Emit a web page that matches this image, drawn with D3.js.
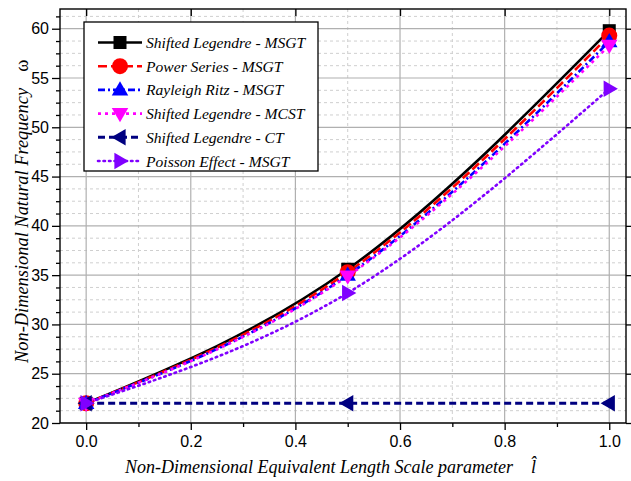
<!DOCTYPE html>
<html>
<head>
<meta charset="utf-8">
<script src="https://cdn.jsdelivr.net/npm/d3@7"></script>
<style>
  html, body { margin: 0; padding: 0; background: #fff; }
  svg { display: block; }
  .serif { font-family: "Liberation Serif", "Times New Roman", Tinos, serif; }
  .sans { font-family: "Liberation Sans", Arial, Arimo, sans-serif; }
</style>
</head>
<body>
<svg id="chart" width="631" height="481"></svg>
<script>
// Length-scale parameter values and frequency results per method
const xValues = [0.0, 0.5, 1.0];
const slMSGT   = [22.0, 35.6, 59.8];
const psMSGT   = [22.0, 35.3, 59.3];
const rrMSGT   = [22.0, 35.0, 58.7];
const slMCST   = [22.0, 34.9, 58.3];
const slCT     = [22.0, 22.0, 22.0];
const poisMSGT = [22.0, 33.2, 53.9];

const seriesNames = [
  "Shifted Legendre - MSGT",
  "Power Series - MSGT",
  "Rayleigh Ritz - MSGT",
  "Shifted Legendre - MCST",
  "Shifted Legendre - CT",
  "Poisson Effect - MSGT"
];
const xTicks = [0.0, 0.2, 0.4, 0.6, 0.8, 1.0];
const yTicks = [20, 25, 30, 35, 40, 45, 50, 55, 60];

const series = [
  { name: seriesNames[0], values: slMSGT,   color: "#000000", dash: null,         width: 2.6, marker: "square" },
  { name: seriesNames[1], values: psMSGT,   color: "#ff0000", dash: "9,4",        width: 2.6, marker: "circle" },
  { name: seriesNames[2], values: rrMSGT,   color: "#0000ff", dash: "7,3,2,3",    width: 2.6, marker: "up" },
  { name: seriesNames[3], values: slMCST,   color: "#ff00ff", dash: "3,4",        width: 2.6, marker: "down" },
  { name: seriesNames[4], values: slCT,     color: "#000080", dash: "7,4",        width: 3,   marker: "left" },
  { name: seriesNames[5], values: poisMSGT, color: "#8000ff", dash: "1.5,4",      width: 2.6, marker: "right", cap: "round" }
];

const svg = d3.select("#chart");
const L = 60, R = 626, T = 9, B = 423;

const x = d3.scaleLinear().domain([-0.05, 1.032]).range([L, R]);
const y = d3.scaleLinear().domain([20, 62]).range([B, T]);

// Grid: minor dashed, major solid
const xMinor = d3.range(-0.0, 1.01, 0.1).filter(v => Math.round(v * 10) % 2 === 1);
const yMinor = d3.range(20, 62.01, 1.25).filter(v => Math.abs(v / 5 - Math.round(v / 5)) > 1e-6);

const grid = svg.append("g");
grid.selectAll(".gxm").data(xMinor).join("line")
  .attr("x1", d => x(d)).attr("x2", d => x(d)).attr("y1", T).attr("y2", B)
  .attr("stroke", "#cfcfcf").attr("stroke-width", 1).attr("stroke-dasharray", "3,3");
grid.selectAll(".gym").data(yMinor).join("line")
  .attr("x1", L).attr("x2", R).attr("y1", d => y(d)).attr("y2", d => y(d))
  .attr("stroke", "#cfcfcf").attr("stroke-width", 1).attr("stroke-dasharray", "3,3");
grid.selectAll(".gx").data(xTicks).join("line")
  .attr("x1", d => x(d)).attr("x2", d => x(d)).attr("y1", T).attr("y2", B)
  .attr("stroke", "#b0b0b0").attr("stroke-width", 1.2);
grid.selectAll(".gy").data(yTicks).join("line")
  .attr("x1", L).attr("x2", R).attr("y1", d => y(d)).attr("y2", d => y(d))
  .attr("stroke", "#b0b0b0").attr("stroke-width", 1.2);

// Axes
const xAxis = d3.axisBottom(x).tickValues(xTicks).tickFormat(d3.format(".1f")).tickSize(7).tickPadding(6);
const xAxisMinor = d3.axisBottom(x).tickValues(xMinor).tickFormat("").tickSize(4);
const yAxis = d3.axisLeft(y).tickValues(yTicks).tickFormat(d3.format("d")).tickSize(8).tickPadding(3);
const yAxisMinor = d3.axisLeft(y).tickValues(yMinor).tickFormat("").tickSize(4);

function styleAxis(g) {
  g.attr("font-family", null);
  g.select(".domain").remove();
  g.selectAll("line").attr("stroke", "#000").attr("stroke-width", 1.3);
  g.selectAll("text").attr("class", "sans").attr("font-size", 16).attr("fill", "#000");
}
svg.append("g").attr("transform", `translate(0,${B})`).call(xAxis).call(styleAxis);
svg.append("g").attr("transform", `translate(0,${B})`).call(xAxisMinor).call(styleAxis);
svg.append("g").attr("transform", `translate(${L},0)`).call(yAxis).call(styleAxis);
svg.append("g").attr("transform", `translate(${L},0)`).call(yAxisMinor).call(styleAxis);

// Top and right ticks
svg.append("g").attr("transform", `translate(0,${T})`)
  .call(d3.axisBottom(x).tickValues(xTicks).tickFormat("").tickSize(7)).call(styleAxis);
svg.append("g").attr("transform", `translate(${R},0)`)
  .call(d3.axisRight(y).tickValues(yTicks).tickFormat("").tickSize(5)).call(styleAxis);

// Frame
svg.append("rect").attr("x", L).attr("y", T).attr("width", R - L).attr("height", B - T)
  .attr("fill", "none").attr("stroke", "#000").attr("stroke-width", 1.4);

// Lines
const line = d3.line().x(d => x(d[0])).y(d => y(d[1])).curve(d3.curveNatural);
const plot = svg.append("g");
series.forEach(s => {
  plot.append("path")
    .datum(xValues.map((xv, i) => [xv, s.values[i]]))
    .attr("d", line)
    .attr("fill", "none")
    .attr("stroke", s.color)
    .attr("stroke-width", s.width)
    .attr("stroke-dasharray", s.dash)
    .attr("stroke-linecap", s.cap || "butt");
});

// Marker shapes
function markerPath(type, r) {
  switch (type) {
    case "square": return `M${-r},${-r}H${r}V${r}H${-r}Z`;
    case "circle": return d3.symbol(d3.symbolCircle, Math.PI * r * r)();
    case "up":     return `M0,${-r * 1.15}L${r * 1.1},${r * 0.75}L${-r * 1.1},${r * 0.75}Z`;
    case "down":   return `M0,${r * 1.15}L${r * 1.1},${-r * 0.75}L${-r * 1.1},${-r * 0.75}Z`;
    case "left":   return `M${-r * 1.15},0L${r * 0.75},${-r * 1.1}L${r * 0.75},${r * 1.1}Z`;
    case "right":  return `M${r * 1.15},0L${-r * 0.75},${-r * 1.1}L${-r * 0.75},${r * 1.1}Z`;
  }
}
const markerSize = { square: 6.5, circle: 8, up: 7.5, down: 7.5, left: 7.5, right: 7.5 };

series.forEach(s => {
  plot.selectAll(null).data(xValues.map((xv, i) => [xv, s.values[i]])).join("path")
    .attr("transform", d => `translate(${x(d[0])},${y(d[1])})`)
    .attr("d", markerPath(s.marker, markerSize[s.marker]))
    .attr("fill", s.color);
});

// Legend
const lg = svg.append("g");
lg.append("rect").attr("x", 84).attr("y", 22).attr("width", 234).attr("height", 149)
  .attr("fill", "#fff").attr("stroke", "#000").attr("stroke-width", 1.3);
series.forEach((s, i) => {
  const cy = 42.5 + i * 23.7;
  lg.append("line").attr("x1", 98).attr("x2", 142).attr("y1", cy).attr("y2", cy)
    .attr("stroke", s.color).attr("stroke-width", s.width)
    .attr("stroke-dasharray", s.dash).attr("stroke-linecap", s.cap || "butt");
  lg.append("path").attr("transform", `translate(120,${cy})`)
    .attr("d", markerPath(s.marker, markerSize[s.marker])).attr("fill", s.color);
  lg.append("text").attr("class", "serif").attr("x", 146).attr("y", cy + 5.5)
    .attr("font-style", "italic").attr("font-size", 15.6)
    .attr("fill", "#000").text(s.name);
});

// Axis titles
svg.append("text").attr("class", "serif").attr("x", 125).attr("y", 473)
  .attr("font-style", "italic").attr("font-size", 18).attr("fill", "#000")
  .call(t => {
    t.append("tspan").text("Non-Dimensional Equivalent Length Scale parameter");
    t.append("tspan").attr("dx", 18).text("l\u0302");
  });

svg.append("text").attr("class", "serif")
  .attr("transform", "translate(28,363) rotate(-90)")
  .attr("font-size", 18.4).attr("fill", "#000")
  .call(t => {
    t.append("tspan").attr("font-style", "italic").text("Non-Dimensional Natural Frequency");
    t.append("tspan").attr("dx", 16).text("ω");
  });
</script>
</body>
</html>
